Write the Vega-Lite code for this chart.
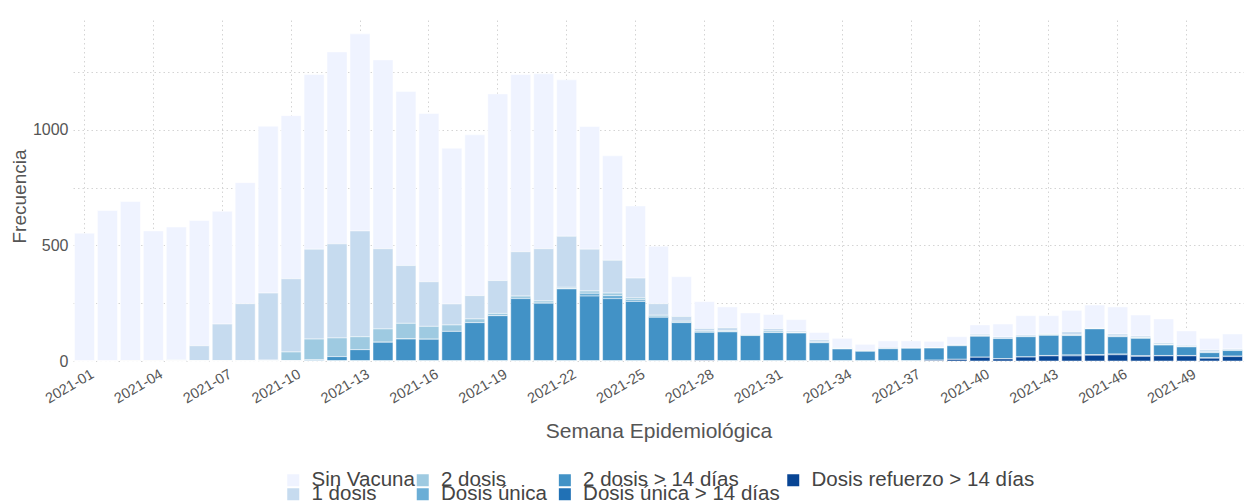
{
  "$schema": "https://vega.github.io/schema/vega-lite/v6.json",
  "width": 1171,
  "height": 341,
  "autosize": {"type": "none"},
  "padding": {"left": 73, "top": 20, "right": 0, "bottom": 143},
  "background": "white",
  "config": {
    "font": "Liberation Sans",
    "view": {"stroke": null},
    "legend": {
      "orient": "none", "direction": "horizontal",
      "symbolType": "square", "symbolSize": 144, "symbolStrokeWidth": 0, "symbolOpacity": 1,
      "labelFontSize": 20.5, "labelColor": "#444444", "labelOffset": 8,
      "labelLimit": 400, "padding": 0
    }
  },
  "data": {"values": [
    {"semana": "2021-01", "sv": 553, "d1": 0, "d2": 0, "du": 0, "d2_14": 0, "du_14": 0, "r": 0},
    {"semana": "2021-02", "sv": 651, "d1": 0, "d2": 0, "du": 0, "d2_14": 0, "du_14": 0, "r": 0},
    {"semana": "2021-03", "sv": 688, "d1": 2, "d2": 0, "du": 0, "d2_14": 0, "du_14": 0, "r": 0},
    {"semana": "2021-04", "sv": 561, "d1": 2, "d2": 0, "du": 0, "d2_14": 0, "du_14": 0, "r": 0},
    {"semana": "2021-05", "sv": 575, "d1": 5, "d2": 0, "du": 0, "d2_14": 0, "du_14": 0, "r": 0},
    {"semana": "2021-06", "sv": 542, "d1": 66, "d2": 0, "du": 0, "d2_14": 0, "du_14": 0, "r": 0},
    {"semana": "2021-07", "sv": 488, "d1": 160, "d2": 0, "du": 0, "d2_14": 0, "du_14": 0, "r": 0},
    {"semana": "2021-08", "sv": 524, "d1": 248, "d2": 0, "du": 0, "d2_14": 0, "du_14": 0, "r": 0},
    {"semana": "2021-09", "sv": 722, "d1": 290, "d2": 4, "du": 0, "d2_14": 0, "du_14": 0, "r": 0},
    {"semana": "2021-10", "sv": 706, "d1": 317, "d2": 39, "du": 0, "d2_14": 0, "du_14": 0, "r": 0},
    {"semana": "2021-11", "sv": 756, "d1": 389, "d2": 90, "du": 0, "d2_14": 5, "du_14": 0, "r": 0},
    {"semana": "2021-12", "sv": 831, "d1": 407, "d2": 81, "du": 0, "d2_14": 19, "du_14": 0, "r": 0},
    {"semana": "2021-13", "sv": 853, "d1": 458, "d2": 56, "du": 0, "d2_14": 49, "du_14": 0, "r": 0},
    {"semana": "2021-14", "sv": 817, "d1": 347, "d2": 58, "du": 0, "d2_14": 81, "du_14": 0, "r": 0},
    {"semana": "2021-15", "sv": 753, "d1": 250, "d2": 68, "du": 0, "d2_14": 95, "du_14": 0, "r": 0},
    {"semana": "2021-16", "sv": 728, "d1": 193, "d2": 56, "du": 0, "d2_14": 94, "du_14": 0, "r": 0},
    {"semana": "2021-17", "sv": 674, "d1": 91, "d2": 28, "du": 0, "d2_14": 128, "du_14": 0, "r": 0},
    {"semana": "2021-18", "sv": 696, "d1": 101, "d2": 16, "du": 0, "d2_14": 166, "du_14": 0, "r": 0},
    {"semana": "2021-19", "sv": 808, "d1": 142, "d2": 10, "du": 0, "d2_14": 196, "du_14": 0, "r": 0},
    {"semana": "2021-20", "sv": 767, "d1": 192, "d2": 11, "du": 0, "d2_14": 270, "du_14": 0, "r": 0},
    {"semana": "2021-21", "sv": 757, "d1": 226, "d2": 10, "du": 0, "d2_14": 250, "du_14": 0, "r": 0},
    {"semana": "2021-22", "sv": 677, "d1": 221, "d2": 7, "du": 0, "d2_14": 312, "du_14": 0, "r": 0},
    {"semana": "2021-23", "sv": 531, "d1": 181, "d2": 10, "du": 12, "d2_14": 281, "du_14": 0, "r": 0},
    {"semana": "2021-24", "sv": 452, "d1": 142, "d2": 11, "du": 13, "d2_14": 270, "du_14": 0, "r": 0},
    {"semana": "2021-25", "sv": 312, "d1": 86, "d2": 8, "du": 7, "d2_14": 258, "du_14": 0, "r": 0},
    {"semana": "2021-26", "sv": 249, "d1": 50, "d2": 9, "du": 0, "d2_14": 189, "du_14": 0, "r": 0},
    {"semana": "2021-27", "sv": 172, "d1": 21, "d2": 6, "du": 0, "d2_14": 166, "du_14": 0, "r": 0},
    {"semana": "2021-28", "sv": 116, "d1": 11, "d2": 6, "du": 0, "d2_14": 122, "du_14": 0, "r": 2},
    {"semana": "2021-29", "sv": 90, "d1": 13, "d2": 5, "du": 0, "d2_14": 126, "du_14": 0, "r": 0},
    {"semana": "2021-30", "sv": 93, "d1": 5, "d2": 0, "du": 0, "d2_14": 110, "du_14": 0, "r": 0},
    {"semana": "2021-31", "sv": 61, "d1": 10, "d2": 7, "du": 0, "d2_14": 123, "du_14": 0, "r": 0},
    {"semana": "2021-32", "sv": 49, "d1": 6, "d2": 3, "du": 0, "d2_14": 121, "du_14": 0, "r": 0},
    {"semana": "2021-33", "sv": 31, "d1": 10, "d2": 3, "du": 0, "d2_14": 79, "du_14": 0, "r": 0},
    {"semana": "2021-34", "sv": 40, "d1": 4, "d2": 2, "du": 0, "d2_14": 52, "du_14": 0, "r": 0},
    {"semana": "2021-35", "sv": 26, "d1": 4, "d2": 0, "du": 0, "d2_14": 42, "du_14": 0, "r": 0},
    {"semana": "2021-36", "sv": 28, "d1": 5, "d2": 1, "du": 0, "d2_14": 53, "du_14": 0, "r": 0},
    {"semana": "2021-37", "sv": 30, "d1": 2, "d2": 0, "du": 0, "d2_14": 55, "du_14": 0, "r": 0},
    {"semana": "2021-38", "sv": 27, "d1": 2, "d2": 0, "du": 0, "d2_14": 53, "du_14": 0, "r": 3},
    {"semana": "2021-39", "sv": 35, "d1": 4, "d2": 0, "du": 0, "d2_14": 59, "du_14": 0, "r": 7},
    {"semana": "2021-40", "sv": 40, "d1": 7, "d2": 2, "du": 0, "d2_14": 91, "du_14": 0, "r": 16},
    {"semana": "2021-41", "sv": 56, "d1": 7, "d2": 0, "du": 0, "d2_14": 88, "du_14": 0, "r": 9},
    {"semana": "2021-42", "sv": 83, "d1": 6, "d2": 2, "du": 0, "d2_14": 88, "du_14": 0, "r": 17},
    {"semana": "2021-43", "sv": 78, "d1": 5, "d2": 2, "du": 0, "d2_14": 87, "du_14": 2, "r": 22},
    {"semana": "2021-44", "sv": 92, "d1": 14, "d2": 3, "du": 0, "d2_14": 84, "du_14": 4, "r": 22},
    {"semana": "2021-45", "sv": 98, "d1": 4, "d2": 1, "du": 0, "d2_14": 111, "du_14": 3, "r": 25},
    {"semana": "2021-46", "sv": 117, "d1": 9, "d2": 3, "du": 0, "d2_14": 75, "du_14": 3, "r": 27},
    {"semana": "2021-47", "sv": 91, "d1": 7, "d2": 3, "du": 0, "d2_14": 75, "du_14": 3, "r": 20},
    {"semana": "2021-48", "sv": 103, "d1": 7, "d2": 3, "du": 0, "d2_14": 45, "du_14": 2, "r": 22},
    {"semana": "2021-49", "sv": 62, "d1": 5, "d2": 2, "du": 0, "d2_14": 37, "du_14": 2, "r": 22},
    {"semana": "2021-50", "sv": 50, "d1": 9, "d2": 3, "du": 0, "d2_14": 22, "du_14": 2, "r": 12},
    {"semana": "2021-51", "sv": 65, "d1": 5, "d2": 2, "du": 0, "d2_14": 24, "du_14": 2, "r": 19}
  ]},
  "transform": [
    {"fold": ["sv", "d1", "d2", "du", "d2_14", "du_14", "r"], "as": ["cat", "n"]},
    {"lookup": "cat", "from": {"data": {"values": [
      {"cat": "r", "label": "Dosis refuerzo > 14 días", "o": 1},
      {"cat": "du_14", "label": "Dosis única > 14 días", "o": 2},
      {"cat": "d2_14", "label": "2 dosis > 14 días", "o": 3},
      {"cat": "du", "label": "Dosis única", "o": 4},
      {"cat": "d2", "label": "2 dosis", "o": 5},
      {"cat": "d1", "label": "1 dosis", "o": 6},
      {"cat": "sv", "label": "Sin Vacuna", "o": 7}
    ]}, "key": "cat", "fields": ["label", "o"]}}
  ],
  "layer": [
    {
      "mark": {"type": "bar", "stroke": "white", "strokeWidth": 0.5},
      "encoding": {
        "x": {
          "field": "semana", "type": "ordinal",
          "scale": {"paddingInner": 0.13, "paddingOuter": 0.065},
          "axis": {
            "values": ["2021-01", "2021-04", "2021-07", "2021-10", "2021-13", "2021-16", "2021-19", "2021-22", "2021-25", "2021-28", "2021-31", "2021-34", "2021-37", "2021-40", "2021-43", "2021-46", "2021-49"],
            "bandPosition": 0.5,
            "labelAngle": -30, "labelAlign": "right", "labelBaseline": "top",
            "labelOffset": 5, "labelPadding": 6, "labelFontSize": 14.5, "labelColor": "#555555",
            "ticks": false, "domain": false,
            "grid": true, "gridDash": [1.5, 3], "gridColor": "#d4d4d4", "gridWidth": 1,
            "title": "Semana Epidemiológica", "titleFontSize": 21, "titleFontWeight": "normal",
            "titleColor": "#555555", "titleY": 76, "titleBaseline": "alphabetic"
          }
        },
        "y": {
          "field": "n", "type": "quantitative", "stack": "zero",
          "scale": {"domain": [0, 1476], "nice": false},
          "axis": {
            "values": [0, 250, 500, 750, 1000, 1250],
            "format": "d",
            "labelExpr": "datum.value % 500 === 0 ? datum.label : ''",
            "ticks": false, "domain": false,
            "grid": true, "gridDash": [1.5, 3], "gridColor": "#d4d4d4", "gridWidth": 1,
            "labelFontSize": 16, "labelColor": "#555555", "labelPadding": 5,
            "title": "Frecuencia", "titleFontSize": 19, "titleFontWeight": "normal",
            "titleColor": "#555555", "titleX": -48, "titleY": 176, "titleAlign": "center",
            "titleBaseline": "alphabetic", "titleAngle": 270
          }
        },
        "color": {
          "field": "label", "type": "nominal",
          "scale": {
            "domain": ["Sin Vacuna", "1 dosis", "2 dosis", "Dosis única", "2 dosis > 14 días", "Dosis única > 14 días", "Dosis refuerzo > 14 días"],
            "range": ["#eff3ff", "#c6dbef", "#9ecae1", "#6baed6", "#4292c6", "#2171b5", "#084594"]
          },
          "legend": {"title": null, "values": ["Sin Vacuna"], "legendX": 210, "legendY": 450}
        },
        "order": {"field": "o", "type": "quantitative", "sort": "ascending"}
      }
    },
    {
      "transform": [{"filter": "datum.semana === '2021-01'"}],
      "mark": {"type": "square", "filled": true, "opacity": 0, "size": 1},
      "encoding": {
        "color": {"field": "label", "type": "nominal", "legend": {"title": null, "values": ["1 dosis"], "legendX": 210, "legendY": 464}}
      }
    },
    {
      "transform": [{"filter": "datum.semana === '2021-01'"}],
      "mark": {"type": "square", "filled": true, "opacity": 0, "size": 1},
      "encoding": {
        "color": {"field": "label", "type": "nominal", "legend": {"title": null, "values": ["2 dosis"], "legendX": 339.5, "legendY": 450}}
      }
    },
    {
      "transform": [{"filter": "datum.semana === '2021-01'"}],
      "mark": {"type": "square", "filled": true, "opacity": 0, "size": 1},
      "encoding": {
        "color": {"field": "label", "type": "nominal", "legend": {"title": null, "values": ["Dosis única"], "legendX": 339.5, "legendY": 464}}
      }
    },
    {
      "transform": [{"filter": "datum.semana === '2021-01'"}],
      "mark": {"type": "square", "filled": true, "opacity": 0, "size": 1},
      "encoding": {
        "color": {"field": "label", "type": "nominal", "legend": {"title": null, "values": ["2 dosis > 14 días"], "legendX": 481.6, "legendY": 450}}
      }
    },
    {
      "transform": [{"filter": "datum.semana === '2021-01'"}],
      "mark": {"type": "square", "filled": true, "opacity": 0, "size": 1},
      "encoding": {
        "color": {"field": "label", "type": "nominal", "legend": {"title": null, "values": ["Dosis única > 14 días"], "legendX": 481.6, "legendY": 464}}
      }
    },
    {
      "transform": [{"filter": "datum.semana === '2021-01'"}],
      "mark": {"type": "square", "filled": true, "opacity": 0, "size": 1},
      "encoding": {
        "color": {"field": "label", "type": "nominal", "legend": {"title": null, "values": ["Dosis refuerzo > 14 días"], "legendX": 710, "legendY": 450}}
      }
    }
  ],
  "resolve": {"legend": {"color": "independent"}}
}
